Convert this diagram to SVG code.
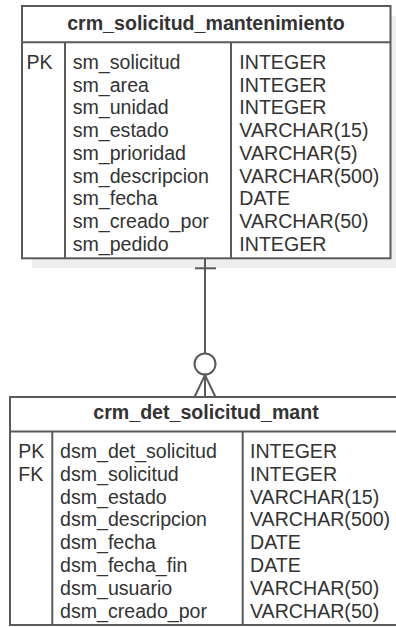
<svg xmlns="http://www.w3.org/2000/svg" width="396" height="627" viewBox="0 0 396 627">
<style>
.frame{fill:#fff;stroke:#5a5a5a;stroke-width:2}
.ln{stroke:#5a5a5a;stroke-width:2;fill:none}
.sh{fill:#eeeeee}
.t{font-family:"Liberation Sans",Arial,sans-serif;font-size:19.6px;fill:#333}
.h{font-family:"Liberation Sans",Arial,sans-serif;font-size:19.6px;font-weight:bold;fill:#333;text-anchor:middle}
</style>
<rect width="396" height="627" fill="#fff"/>
<g id="crm_solicitud_mantenimiento">
<rect class="sh" x="32" y="16" width="368" height="252"/>
<rect class="frame" x="22" y="6" width="368.5" height="252.3"/>
<line class="ln" x1="22" y1="42.3" x2="390.5" y2="42.3"/>
<line class="ln" x1="65" y1="42.3" x2="65" y2="258.3"/>
<line class="ln" x1="231" y1="42.3" x2="231" y2="258.3"/>
<text class="h" x="206" y="30">crm_solicitud_mantenimiento</text>
<text class="t" x="26.5" y="69">PK</text>
<text class="t" x="72.7" y="69">sm_solicitud</text>
<text class="t" x="72.7" y="91.7">sm_area</text>
<text class="t" x="72.7" y="114.4">sm_unidad</text>
<text class="t" x="72.7" y="137.1">sm_estado</text>
<text class="t" x="72.7" y="159.8">sm_prioridad</text>
<text class="t" x="72.7" y="182.5">sm_descripcion</text>
<text class="t" x="72.7" y="205.2">sm_fecha</text>
<text class="t" x="72.7" y="227.9">sm_creado_por</text>
<text class="t" x="72.7" y="250.6">sm_pedido</text>
<text class="t" x="239.3" y="69">INTEGER</text>
<text class="t" x="239.3" y="91.7">INTEGER</text>
<text class="t" x="239.3" y="114.4">INTEGER</text>
<text class="t" x="239.3" y="137.1">VARCHAR(15)</text>
<text class="t" x="239.3" y="159.8">VARCHAR(5)</text>
<text class="t" x="239.3" y="182.5">VARCHAR(500)</text>
<text class="t" x="239.3" y="205.2">DATE</text>
<text class="t" x="239.3" y="227.9">VARCHAR(50)</text>
<text class="t" x="239.3" y="250.6">INTEGER</text>
</g>
<g id="crm_det_solicitud_mant">
<rect class="frame" x="10" y="397" width="395" height="228"/>
<line class="ln" x1="10" y1="431.5" x2="405" y2="431.5"/>
<line class="ln" x1="52.3" y1="431.5" x2="52.3" y2="625"/>
<line class="ln" x1="242.7" y1="431.5" x2="242.7" y2="625"/>
<text class="h" x="206" y="419">crm_det_solicitud_mant</text>
<text class="t" x="18.3" y="458">PK</text>
<text class="t" x="18.3" y="480.8">FK</text>
<text class="t" x="60" y="458">dsm_det_solicitud</text>
<text class="t" x="60" y="480.8">dsm_solicitud</text>
<text class="t" x="60" y="503.6">dsm_estado</text>
<text class="t" x="60" y="526.4">dsm_descripcion</text>
<text class="t" x="60" y="549.2">dsm_fecha</text>
<text class="t" x="60" y="572">dsm_fecha_fin</text>
<text class="t" x="60" y="594.8">dsm_usuario</text>
<text class="t" x="60" y="617.6">dsm_creado_por</text>
<text class="t" x="250" y="458">INTEGER</text>
<text class="t" x="250" y="480.8">INTEGER</text>
<text class="t" x="250" y="503.6">VARCHAR(15)</text>
<text class="t" x="250" y="526.4">VARCHAR(500)</text>
<text class="t" x="250" y="549.2">DATE</text>
<text class="t" x="250" y="572">DATE</text>
<text class="t" x="250" y="594.8">VARCHAR(50)</text>
<text class="t" x="250" y="617.6">VARCHAR(50)</text>
</g>
<g id="connectors">
<line class="ln" x1="205" y1="258.3" x2="205" y2="353.5"/>
<line class="ln" x1="195" y1="268.3" x2="216" y2="268.3"/>
<circle class="ln" cx="205" cy="364" r="10.5"/>
<polyline class="ln" points="194.5,397 205,375 215.5,397"/>
<line class="ln" x1="205" y1="375" x2="205" y2="397"/>
</g>
</svg>
